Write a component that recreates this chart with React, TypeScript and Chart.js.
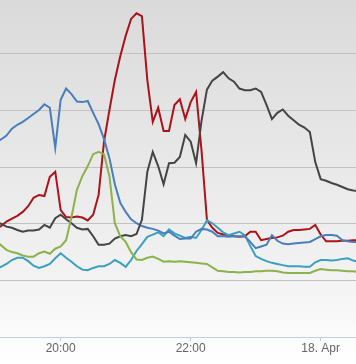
import { useEffect, useRef } from "react";
import { Chart, registerables } from "chart.js";

Chart.register(...registerables);

// Time of each sample (17 Apr evening into 18 Apr)
const times = [
  "19:00", "19:05", "19:10", "19:15", "19:20", "19:25", "19:30", "19:35", "19:40", "19:45", "19:50", "19:55",
  "20:00", "20:05", "20:10", "20:15", "20:20", "20:25", "20:30", "20:35", "20:40", "20:45", "20:50", "20:55",
  "21:00", "21:05", "21:10", "21:15", "21:20", "21:25", "21:30", "21:35", "21:40", "21:45", "21:50", "21:55",
  "22:00", "22:05", "22:10", "22:15", "22:20", "22:25", "22:30", "22:35", "22:40", "22:45", "22:50", "22:55",
  "23:00", "23:05", "23:10", "23:15", "23:20", "23:25", "23:30", "23:35", "23:40", "23:45", "23:50", "23:55",
  "00:00", "00:05", "00:10", "00:15", "00:20", "00:25", "00:30", "00:35",
];

const blueValues = [
  34.5, 34.9, 35.6, 36.8, 37.5, 38.0, 38.7, 39.4, 40.1, 41.1, 40.5, 33.4,
  41.9, 43.9, 42.9, 41.6, 41.5, 41.7, 39.6, 37.6, 35.0, 31.6, 27.0, 23.7,
  22.1, 20.8, 20.1, 19.6, 19.3, 19.1, 18.8, 18.3, 18.6, 17.9, 17.3, 17.4,
  17.4, 18.6, 19.1, 19.0, 18.6, 17.8, 17.8, 17.7, 17.8, 17.8, 17.8, 16.8,
  15.7, 16.0, 16.3, 18.0, 17.0, 16.5, 16.4, 16.5, 16.6, 16.7, 16.8, 17.3,
  17.8, 18.0, 18.0, 17.9, 17.1, 16.9, 16.8, 16.8,
];

const redValues = [
  19.1, 19.6, 20.4, 20.9, 21.4, 22.1, 23.1, 24.6, 25.1, 24.9, 28.3, 29.2,
  22.4, 21.2, 21.1, 21.3, 21.1, 20.6, 21.6, 25.1, 34.5, 40.1, 45.4, 49.6,
  53.2, 56.2, 57.2, 56.7, 45.4, 38.0, 40.5, 36.4, 36.4, 41.0, 42.0, 38.5,
  41.5, 43.3, 33.0, 20.7, 19.3, 18.4, 18.1, 18.0, 17.8, 17.7, 17.8, 18.6,
  18.6, 17.1, 17.3, 17.5, 17.6, 17.9, 18.6, 18.9, 18.9, 19.0, 19.1, 19.8,
  18.1, 16.9, 16.9, 16.9, 17.0, 17.0, 17.1, 17.1,
];

const greenValues = [
  17.0, 16.2, 15.4, 15.0, 14.8, 14.4, 14.2, 14.2, 14.8, 15.1, 14.7, 15.6,
  16.0, 17.1, 21.2, 26.0, 28.4, 30.2, 32.3, 32.7, 32.3, 28.4, 20.1, 17.8,
  16.8, 15.0, 13.7, 13.6, 14.0, 14.2, 13.8, 13.3, 13.4, 13.3, 13.4, 13.3,
  13.2, 13.1, 13.0, 12.9, 12.3, 11.7, 11.6, 11.5, 11.5, 11.4, 11.5, 11.5,
  11.6, 11.6, 11.7, 11.7, 11.6, 11.4, 11.3, 11.3, 11.3, 11.3, 11.3, 11.7,
  12.0, 11.9, 11.8, 11.8, 11.7, 11.6, 11.6, 11.5,
];

const blackValues = [
  20.3, 20.0, 19.5, 19.3, 18.9, 18.6, 18.8, 18.8, 19.0, 19.8, 19.3, 21.0,
  21.6, 20.8, 20.1, 19.3, 19.0, 19.1, 17.8, 16.3, 16.3, 16.5, 17.4, 17.8,
  18.0, 17.8, 18.2, 20.7, 29.2, 32.7, 30.2, 27.0, 30.7, 30.8, 31.8, 35.7,
  34.5, 30.7, 38.2, 43.7, 45.3, 46.0, 46.8, 45.7, 45.1, 43.9, 43.6, 43.6,
  43.9, 43.3, 41.0, 38.5, 39.6, 40.2, 39.1, 38.3, 37.5, 37.0, 36.2, 30.9,
  27.9, 27.6, 27.2, 26.9, 26.5, 26.1, 25.9, 25.8,
];

const tealValues = [
  12.1, 12.4, 12.9, 13.6, 14.0, 14.0, 13.4, 12.6, 12.2, 12.5, 12.9, 13.9,
  14.8, 14.0, 13.3, 12.5, 11.9, 11.8, 12.2, 12.5, 12.5, 12.9, 13.6, 13.1,
  12.4, 13.6, 15.2, 16.4, 17.7, 18.1, 18.5, 17.8, 19.0, 18.3, 17.9, 17.5,
  17.7, 17.5, 18.9, 20.6, 20.1, 19.3, 18.5, 18.0, 18.3, 18.6, 18.0, 16.1,
  14.3, 13.8, 13.4, 13.1, 12.9, 12.7, 12.5, 12.5, 12.5, 12.4, 12.4, 13.2,
  13.6, 13.6, 13.5, 13.6, 13.8, 13.9, 13.5, 13.3,
];

const tickTimes = ["20:00", "22:00", "00:00"];
const tickLabels = ["20:00", "22:00", "18. Apr"];
const gridValues = [10, 20, 30, 40, 50];

const toMinutes = (t: string) => {
  const [h, m] = t.split(":").map(Number);
  return h * 60 + m + (h < 12 ? 1440 : 0);
};

export default function App() {
  const ref = useRef<HTMLCanvasElement>(null);

  useEffect(() => {
    const canvas = ref.current;
    if (!canvas) return;
    const xs = times.map(toMinutes);
    const tickMinutes = tickTimes.map(toMinutes);
    const series = (vals: number[]) => vals.map((v, i) => ({ x: xs[i], y: v }));

    const bg = {
      id: "bgGradient",
      beforeDraw(chart: any) {
        const { ctx, width, height } = chart;
        const g = ctx.createLinearGradient(0, 0, 0, height);
        g.addColorStop(0, "#dadada");
        g.addColorStop(0.75, "#f2f2f2");
        g.addColorStop(1, "#ffffff");
        ctx.save();
        ctx.fillStyle = g;
        ctx.fillRect(0, 0, width, height);
        ctx.restore();
      },
    };

    const line = (data: number[], color: string) => ({
      data: series(data),
      borderColor: color,
      backgroundColor: color,
      borderWidth: 2,
      pointRadius: 0,
      tension: 0,
      fill: false,
    });

    const chart = new Chart(canvas, {
      type: "line",
      data: {
        datasets: [
          line(greenValues, "#8db14b"),
          line(blackValues, "#444444"),
          line(blueValues, "#4a7ebb"),
          line(tealValues, "#3aa0c0"),
          line(redValues, "#ad1219"),
        ],
      },
      options: {
        animation: false,
        responsive: false,
        events: [],
        plugins: { legend: { display: false }, tooltip: { enabled: false } },
        layout: { padding: { left: 0, right: 0, top: 0, bottom: 8.6 } },
        scales: {
          x: {
            type: "linear",
            min: 1144,
            max: 1472.6,
            afterBuildTicks: (s: any) => {
              s.ticks = tickMinutes.map((v) => ({ value: v }));
            },
            ticks: {
              autoSkip: false,
              maxRotation: 0,
              padding: 0,
              color: "#666666",
              font: { family: '"Liberation Sans", Arial, sans-serif', size: 12 },
              callback: (v: any) => {
                const i = tickMinutes.indexOf(Number(v));
                return i >= 0 ? tickLabels[i] : "";
              },
            },
            grid: { drawOnChartArea: false, drawTicks: true, tickLength: 4, tickColor: "#c0d0e0" },
            border: { display: true, color: "#c0d0e0", width: 1 },
          },
          y: {
            min: 0,
            max: 59.54,
            afterBuildTicks: (s: any) => {
              s.ticks = gridValues.map((v) => ({ value: v }));
            },
            ticks: { display: false },
            grid: { color: "#c2c2c2", lineWidth: 1, drawTicks: false },
            border: { display: false },
          },
        },
      },
      plugins: [bg],
    });
    return () => chart.destroy();
  }, []);

  return (
    <div style={{ position: "absolute", left: 0, top: 0, width: 356, height: 364 }}>
      <canvas ref={ref} width={356} height={364} style={{ display: "block", width: 356, height: 364 }} />
    </div>
  );
}
